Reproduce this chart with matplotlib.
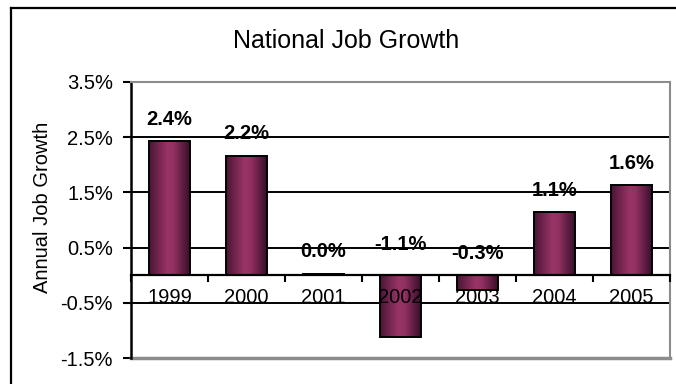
import matplotlib.pyplot as plt
import matplotlib.colors as mcolors
import numpy as np
from matplotlib.lines import Line2D

plt.rcParams['font.family'] = ['Liberation Sans', 'DejaVu Sans']

years = ['1999', '2000', '2001', '2002', '2003', '2004', '2005']
growth = [2.43, 2.16, 0.03, -1.12, -0.26, 1.14, 1.63]
growth_labels = ['2.4%', '2.2%', '0.0%', '-1.1%', '-0.3%', '1.1%', '1.6%']
yticks = [-1.5, -0.5, 0.5, 1.5, 2.5, 3.5]

W, H = 676, 384
fig = plt.figure(figsize=(W / 100, H / 100), dpi=100)

# chart frame (only the top and left edges fall inside the image)
fig.add_artist(Line2D([11 / W, 11 / W], [0, 1 - 7.5 / H], color='black', lw=1.6))
fig.add_artist(Line2D([11 / W, 1], [1 - 7.5 / H, 1 - 7.5 / H], color='black', lw=1.6))

left, right, top, bottom = 131, 670, 82, 358
ax = fig.add_axes([left / W, 1 - bottom / H, (right - left) / W, (bottom - top) / H])

x = np.arange(len(years))
bars = ax.bar(x, growth, width=0.52, facecolor='none', edgecolor='black', lw=1.4, zorder=2.2)

# horizontal shading across each bar
shade = mcolors.LinearSegmentedColormap.from_list(
    'plum', [(0, '#4a1636'), (0.45, '#9a3466'), (0.6, '#923163'), (1, '#3a0f2a')])
grad = np.linspace(0, 1, 100).reshape(1, -1)
for b in bars:
    x0, y0 = b.get_x(), b.get_y()
    im = ax.imshow(grad, cmap=shade, aspect='auto', zorder=2,
                   extent=[x0, x0 + b.get_width(), y0, y0 + b.get_height()])
    im.set_clip_path(b)

for xi, v, lab in zip(x, growth, growth_labels):
    ax.annotate(lab, (xi, max(v, 0)), xytext=(0, 22 if v > -0.5 else 31),
                textcoords='offset pixels', ha='center', va='center',
                fontsize=14.5, fontweight='bold', zorder=5)

ax.set_xlim(-0.5, len(years) - 0.5)
ax.set_ylim(-1.5, 3.5)

ax.set_yticks(yticks)
ax.set_yticklabels(['%.1f%%' % t for t in yticks], fontsize=14.5)
ax.tick_params(axis='y', length=6, width=1.5, pad=7, direction='out')

for t in yticks[1:-1]:
    ax.axhline(t, color='black', lw=1.4, zorder=1)

# category axis sits on the zero line
ax.spines['bottom'].set_position(('data', 0))
ax.spines['bottom'].set_linewidth(1.6)
ax.spines['bottom'].set_zorder(3)
ax.xaxis.set_zorder(3)
ax.set_xticks(x)
ax.set_xticklabels(years, fontsize=14.5)
ax.set_xticks(np.arange(len(years) + 1) - 0.5, minor=True)
ax.tick_params(axis='x', which='major', length=0, pad=9)
ax.tick_params(axis='x', which='minor', length=5, width=1.5, direction='out')

ax.spines['left'].set_linewidth(1.8)
for s in ['top', 'right']:
    ax.spines[s].set_color('#8c8c8c')
    ax.spines[s].set_linewidth(1.5)
ax.axhline(-1.5, color='#8c8c8c', lw=2.5, clip_on=False, zorder=2)

fig.text(346 / W, 1 - 41 / H, 'National Job Growth', ha='center', va='center', fontsize=18)
fig.text(43 / W, 1 - 207 / H, 'Annual Job Growth', ha='center', va='center',
         rotation=90, fontsize=14.5)

fig.savefig('out.png', dpi=100)
